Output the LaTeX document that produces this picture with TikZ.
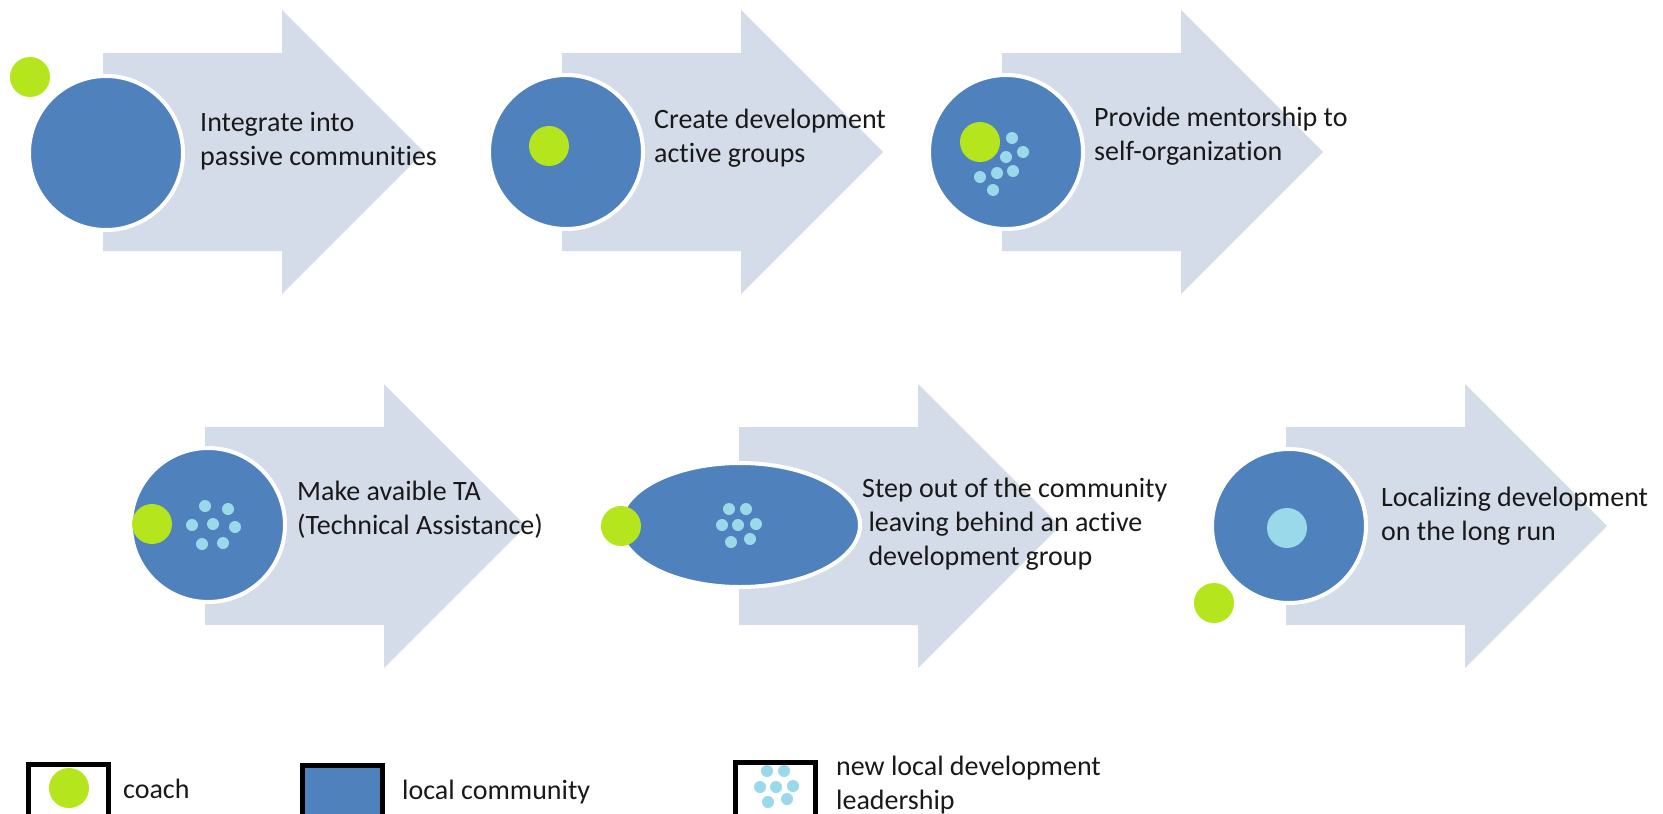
\documentclass[tikz,border=0pt]{standalone}
\usepackage{fontspec}
\setmainfont{Carlito}[Ligatures=NoCommon]
\usetikzlibrary{shapes.geometric}
\definecolor{arrowfill}{RGB}{213,220,233}
\definecolor{cblue}{RGB}{79,129,189}
\definecolor{coachgreen}{RGB}{181,230,29}
\definecolor{leaddot}{RGB}{153,217,234}
\definecolor{txt}{RGB}{25,25,25}
\begin{document}
\begin{tikzpicture}[x=1pt,y=-1pt,
  community/.style={circle, fill=cblue, draw=white, line width=4pt, minimum size=154pt, inner sep=0pt},
  commellipse/.style={ellipse, fill=cblue, draw=white, line width=4pt, minimum width=240pt, minimum height=124pt, inner sep=0pt},
  coach/.style={circle, fill=coachgreen, minimum size=40pt, inner sep=0pt},
  lead/.style={circle, fill=leaddot, minimum size=12pt, inner sep=0pt},
  bigdot/.style={circle, fill=leaddot, minimum size=40pt, inner sep=0pt},
  steptext/.style={anchor=base west, align=left, inner sep=0pt, text=txt, font=\fontsize{28}{34}\selectfont},
  legbox/.style={draw=black, line width=5pt, minimum width=80pt, minimum height=75pt, anchor=north west, inner sep=0pt},
  stagearrow/.pic={\fill[arrowfill] (0,-99) -- (179,-99) -- (179,-142) -- (321,0) -- (179,142) -- (179,99) -- (0,99) -- cycle;}
]
\path[use as bounding box] (0,0) rectangle (1663,814);
\clip (0,0) rectangle (1663,814);
\fill[white] (0,0) rectangle (1663,814);

% arrows
\pic at (103,152) {stagearrow};
\pic at (562,152) {stagearrow};
\pic at (1002,152) {stagearrow};
\pic at (205,526) {stagearrow};
\pic at (739,526) {stagearrow};
\pic at (1286,526) {stagearrow};

% stage 1
\node[community] (c1) at (106,153) {};
\node[coach] (k1) at (30,77) {};
\node[steptext] (t1) at (200,165) {Integrate into\\passive communities};

% stage 2
\node[community] (c2) at (566,152) {};
\node[coach] (k2) at (549,146) {};
\node[steptext] (t2) at (654,162) {Create development\\active groups};

% stage 3
\node[community] (c3) at (1006,152) {};
\node[coach] (k3) at (980,142) {};
\node[lead] (d31) at (1012,138) {};
\node[lead] (d32) at (1023,152) {};
\node[lead] (d33) at (1006,157) {};
\node[lead] (d34) at (1013,171) {};
\node[lead] (d35) at (997,173) {};
\node[lead] (d36) at (980,177) {};
\node[lead] (d37) at (993,190) {};
\node[steptext] (t3) at (1094,160) {Provide mentorship to\\self-organization};

% stage 4
\node[community] (c4) at (208,525) {};
\node[coach] (k4) at (152,524) {};
\node[lead] (d41) at (205,506) {};
\node[lead] (d42) at (228,509) {};
\node[lead] (d43) at (192,525) {};
\node[lead] (d44) at (213,524) {};
\node[lead] (d45) at (235,527) {};
\node[lead] (d46) at (202,544) {};
\node[lead] (d47) at (223,543) {};
\node[steptext] (t4) at (297,534) {Make avaible TA\\(Technical Assistance)};

% stage 5
\node[commellipse] (c5) at (740,525) {};
\node[coach] (k5) at (621,526) {};
\node[lead] (d51) at (729,509) {};
\node[lead] (d52) at (746,509) {};
\node[lead] (d53) at (722,525) {};
\node[lead] (d54) at (738,525) {};
\node[lead] (d55) at (756,524) {};
\node[lead] (d56) at (731,542) {};
\node[lead] (d57) at (750,539) {};
\node[steptext] (t5) at (862,565) {Step out of the community\\\ leaving behind an active\\\ development group};

% stage 6
\node[community] (c6) at (1289,526) {};
\node[bigdot] (l6) at (1287,528) {};
\node[coach] (k6) at (1214,603) {};
\node[steptext] (t6) at (1381,540) {Localizing development\\on the long run};

% legend
\node[legbox] (lg1) at (26,762) {};
\node[coach] (lk) at (69,788) {};
\node[steptext] (lt1) at (123,798) {coach};

\node[legbox, fill=cblue] (lg2) at (300,763) {};
\node[steptext] (lt2) at (402,799) {local community};

\node[legbox] (lg3) at (733,760) {};
\node[lead] (ld1) at (767,771) {};
\node[lead] (ld2) at (784,771) {};
\node[lead] (ld3) at (760,787) {};
\node[lead] (ld4) at (776,787) {};
\node[lead] (ld5) at (793,786) {};
\node[lead] (ld6) at (768,802) {};
\node[lead] (ld7) at (787,799) {};
\node[steptext] (lt3) at (836,809) {new local development\\leadership};
\end{tikzpicture}
\end{document}
